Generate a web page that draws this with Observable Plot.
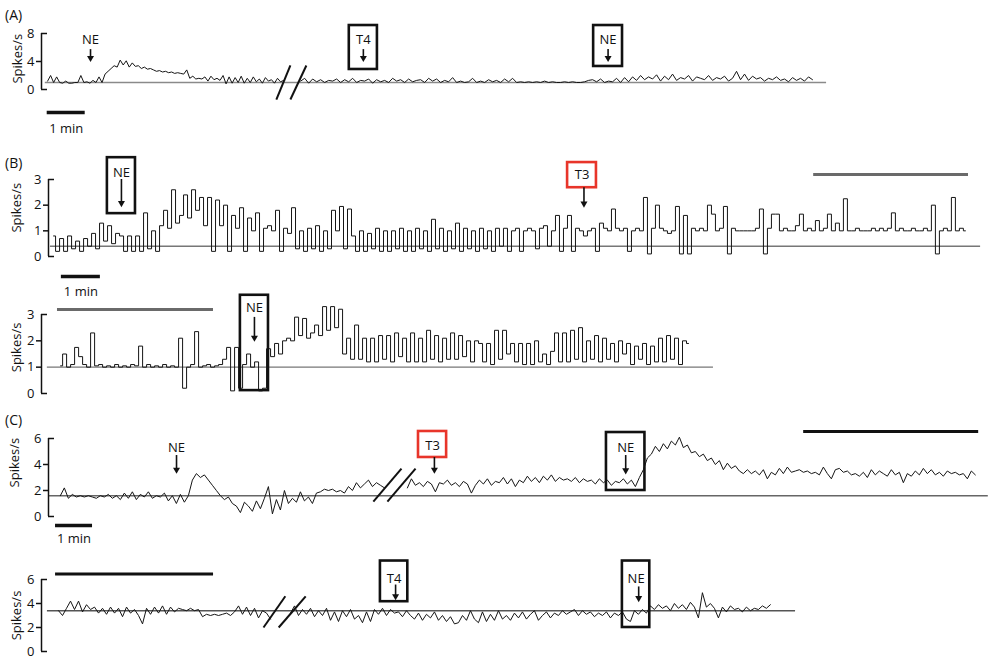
<!DOCTYPE html>
<html>
<head>
<meta charset="utf-8">
<script src="https://cdn.jsdelivr.net/npm/d3@7"></script>
<script src="https://cdn.jsdelivr.net/npm/@observablehq/plot@0.6"></script>
<style>
  body { margin: 0; background: #fff; }
  #fig { position: relative; width: 988px; height: 661px; overflow: hidden; font-family: 'Open Sans', 'Noto Sans', sans-serif; }
  .panel { position: absolute; left: 0; }
  .plab { position: absolute; left: 5px; font-size: 14px; line-height: 18px; color: #111; }
</style>
</head>
<body>
<div id="fig"></div>
<script>
// ---------------- DATA (spikes/s) ----------------
// Panel A
const aSeg1 = [1.2,2.0,1.0,1.8,1.0,0.9,1.2,0.9,0.9,1.0,1.0,2.0,1.0,1.1,0.9,1.3,1.0,1.8,1.0,2.2,2.6,3.0,3.4,3.2,4.2,3.5,4.1,3.2,3.8,3.3,3.4,3.0,3.2,2.9,3.0,2.8,2.6,2.7,2.5,2.6,2.4,2.5,2.3,2.4,2.3,2.2,2.8,1.6,1.9,1.5,1.6,1.5,1.8,1.2,1.9,1.4,1.6,1.3,2.0,0.8,1.8,0.9,1.7,1.0,1.9,0.9,1.6,1.0,1.8,1.1,1.5,0.9,1.7,1.2,1.4,0.9,1.6,1.1,1.3];
const aSeg2 = [1.2,1.6,0.9,1.5,1.1,1.4,1.0,1.3,1.2,1.5,1.0,1.4,1.1,1.6,1.0,1.3,1.2,1.5,0.9,1.4,1.1,1.3,1.0,1.6,1.2,1.4,1.0,1.5,1.1,1.3,
  1.4,1.0,1.6,1.2,1.5,1.0,1.3,1.1,1.7,1.0,1.2,1.0,1.1,1.6,1.0,1.2,1.0,1.4,1.1,1.3,1.0,1.5,1.1,1.6,1.0,1.1,1.0,1.1,
  1.0,1.1,1.0,1.2,1.0,1.1,1.0,1.0,1.1,1.0,1.1,1.0,1.0,1.1,1.3,
  1.4,1.1,1.5,1.0,1.2,1.1,1.6,1.0,1.7,1.1,1.8,
  1.3,2.0,1.4,1.8,1.5,2.1,1.2,1.9,1.4,2.2,1.3,1.7,1.5,2.0,1.2,1.8,1.6,1.4,2.0,1.3,1.7,1.5,1.9,1.2,1.6,2.6,1.4,2.2,1.3,1.9,1.5,1.7,1.2,1.6,1.4,1.8,1.3,1.5,1.1,1.7,1.3,1.6,1.2,1.8,1.4];
// Panel B, upper trace
const bTop = [0.8,0.2,0.7,0.2,0.8,0.3,0.6,0.2,0.7,0.4,0.9,0.3,1.3,0.6,1.2,0.5,0.9,0.8,0.2,0.8,0.2,0.8,0.2,1.7,0.3,
  1.0,0.2,1.2,1.8,1.1,2.6,1.3,1.6,2.4,1.5,2.6,1.8,2.3,1.2,2.3,0.2,2.2,1.2,2.0,0.2,1.6,1.1,1.9,0.2,1.5,
  1.0,1.7,0.2,1.1,1.2,1.0,1.8,0.2,1.1,0.9,1.9,0.3,1.0,0.2,1.1,0.3,1.2,0.2,1.0,0.3,1.8,1.0,1.95,0.3,1.85,
  0.8,0.2,1.0,0.2,0.9,0.3,1.1,0.2,1.0,0.2,1.0,0.3,1.1,0.2,1.0,0.2,1.1,0.3,1.0,0.2,1.45,0.3,1.1,0.2,1.0,
  0.3,1.3,0.2,1.1,0.3,1.0,0.2,1.1,0.3,1.0,0.2,1.1,0.4,1.1,0.2,1.0,1.1,0.2,1.0,1.1,1.0,0.3,1.1,1.2,0.4,
  1.0,1.6,0.2,1.1,1.6,0.2,1.1,1.0,0.8,1.0,1.1,0.2,1.3,1.1,1.0,1.85,1.1,1.0,1.1,0.2,1.0,1.1,
  1.0,2.3,0.1,1.1,2.0,1.1,1.0,0.9,1.0,1.95,0.1,1.6,0.1,1.1,1.0,1.1,1.0,2.0,1.65,1.0,1.1,1.95,0.1,1.1,1.0,1.0,1.0,1.0,1.0,1.1,1.85,0.1,1.1,1.65,1.65,1.0,1.1,1.0,1.0,1.2,1.65,1.0,1.1,1.0,1.4,1.0,1.1,1.65,1.0,1.3,1.0,2.25,1.0,1.0,1.1,1.0,1.0,1.0,1.1,1.0,1.1,1.0,1.1,1.7,1.0,1.1,1.0,1.0,1.1,1.0,1.0,1.1,1.0,2.0,0.1,1.0,1.1,1.0,2.3,1.0,1.1,1.0];
// Panel B, lower trace
const bBottom = [1.05,1.5,1.0,1.1,1.75,1.4,1.1,1.0,2.3,1.05,1.1,1.0,1.05,1.0,1.1,1.0,1.05,1.0,1.1,1.05,1.8,1.0,1.1,1.0,1.05,1.0,1.1,1.0,1.05,1.0,
  2.1,0.2,1.0,1.1,2.35,1.0,1.05,1.1,1.0,1.05,1.1,1.3,1.75,0.1,1.75,0.2,1.1,1.5,1.0,1.2,0.1,0.2,1.7,1.4,1.9,1.5,2.0,2.1,2.0,2.9,
  2.2,2.85,2.1,2.3,2.6,2.2,3.3,2.4,3.3,2.5,3.2,1.5,2.1,1.3,2.6,1.3,2.1,1.2,2.1,1.2,2.2,1.3,2.2,1.2,2.3,1.4,2.1,1.2,2.3,1.2,
  2.1,1.2,2.4,1.3,2.2,1.2,2.1,1.3,2.3,1.3,2.2,1.4,2.0,1.2,2.0,1.9,1.2,1.9,1.1,2.4,1.3,2.4,1.5,1.9,1.2,1.9,1.1,1.9,1.1,2.0,
  1.2,1.5,1.1,1.6,2.3,1.2,2.3,1.2,2.4,1.3,2.5,1.2,2.0,1.3,2.2,1.2,2.1,1.3,1.9,1.2,2.0,1.5,1.9,1.1,1.8,1.3,1.9,1.1,1.8,1.2,
  2.1,1.2,2.2,1.3,2.1,1.1,2.0,1.9];
// Panel C, upper trace (before / after the break)
const cSeg1 = [1.6,2.2,1.4,1.7,1.5,1.6,1.5,1.6,1.5,1.4,1.6,1.5,1.7,1.4,1.6,1.3,1.8,1.4,1.9,1.3,1.7,1.5,1.9,1.4,1.6,1.5,1.8,1.2,1.6,1.0,
  1.7,1.1,1.6,2.8,3.3,3.0,3.2,2.8,2.4,2.0,1.6,1.3,1.5,1.0,0.8,0.3,1.1,0.8,0.4,1.2,0.6,1.4,2.3,0.2,1.3,0.5,2.0,1.0,1.4,1.1,
  1.9,1.2,1.5,1.0,1.8,1.9,2.1,2.0,2.1,1.9,2.0,1.8,2.3,2.0,2.6,2.2,2.5,2.8,2.3,2.6,2.4,2.2];
const cSeg2 = [2.2,2.9,2.4,2.6,2.3,2.7,2.5,1.9,2.6,2.5,2.8,2.4,2.6,2.3,2.7,2.5,1.8,2.4,2.8,2.5,2.9,2.4,2.7,2.6,3.0,2.5,2.9,2.3,2.8,2.6,
  3.1,2.7,3.0,2.6,3.1,2.8,3.2,2.7,3.0,2.8,2.9,2.7,3.0,2.6,2.9,2.7,2.8,2.5,2.9,2.6,2.8,2.4,2.7,2.6,2.9,2.5,2.8,2.3,3.0,3.6,
  4.5,4.8,5.4,5.0,5.6,5.2,5.8,5.5,6.1,5.3,5.5,4.9,5.0,4.6,4.8,4.3,4.5,4.0,4.3,3.6,4.1,3.7,3.9,3.5,3.3,3.6,3.3,3.5,3.2,3.6,
  2.9,3.4,3.2,3.7,3.3,3.8,3.4,3.5,3.6,3.4,3.5,3.3,3.4,3.2,3.8,3.3,2.9,3.6,3.7,3.4,3.5,3.2,3.3,3.1,3.4,3.0,3.6,3.2,3.5,3.3,
  3.1,3.6,3.2,3.4,2.6,3.3,3.1,3.5,3.2,3.7,3.3,3.6,3.2,3.4,3.1,3.5,3.3,3.4,3.2,3.3,2.9,3.5,3.2];
// Panel C, lower trace (before / after the break)
const dSeg1 = [3.4,3.0,3.6,4.2,3.5,4.2,3.3,3.9,3.5,3.7,3.2,3.6,3.1,3.7,3.2,3.6,2.9,3.7,3.2,3.5,3.0,2.3,3.6,3.1,3.7,3.2,3.8,3.1,3.7,3.3,
  3.6,3.5,3.4,3.6,3.4,3.5,2.9,3.1,3.0,3.1,3.0,3.1,3.2,3.0,3.3,3.8,3.1,3.7,3.0,3.6,2.8,3.4,3.2,2.7];
const dSeg2 = [3.2,3.8,3.0,3.5,3.1,3.6,2.9,3.4,3.0,3.6,2.6,3.3,2.5,3.4,2.9,3.5,2.7,3.0,2.4,3.3,2.5,3.5,3.1,3.6,3.0,3.5,3.2,3.3,2.9,3.4,
  3.0,2.7,3.2,2.6,3.1,2.8,3.3,2.6,3.0,2.5,2.9,2.3,2.4,3.0,2.6,3.4,2.7,2.4,3.3,2.5,3.1,2.6,3.4,2.7,3.0,2.6,3.2,2.8,3.3,2.7,
  3.1,3.4,2.6,3.0,3.3,2.8,3.2,3.0,3.4,3.1,3.3,3.5,3.0,3.4,3.1,3.3,2.9,3.2,3.0,3.3,2.8,3.2,3.0,3.3,2.7,2.5,3.4,3.1,3.5,3.2,
  3.8,3.5,3.9,3.6,3.8,3.4,4.0,3.6,3.9,3.5,4.1,3.7,2.8,4.9,3.7,4.0,3.6,2.8,3.7,3.3,3.8,3.5,3.6,3.3,3.7,3.4,3.6,3.5,3.8,3.6,3.9];

const ticksA = [0, 4, 8];
const ticksB = [0, 1, 2, 3];
const ticksC = [0, 2, 4, 6];
const yTitle = "Spikes/s";
const scaleText = "1 min";

// drug applications (time in min, label)
const eventsA = [{label: "NE", t: 1.29, boxed: false}, {label: "T4", t: 8.47, boxed: true}, {label: "NE", t: 14.91, boxed: true}];
const eventsB1 = [{label: "NE", t: 1.87, boxed: true}, {label: "T3", t: 13.68, boxed: true, red: true}];
const eventsB2 = [{label: "NE", t: 5.46, boxed: true}];
const eventsC1 = [{label: "NE", t: 3.46, boxed: false}, {label: "T3", t: 10.38, boxed: true, red: true}, {label: "NE", t: 15.6, boxed: true}];
const eventsC2 = [{label: "T4", t: 9.53, boxed: true}, {label: "NE", t: 16.07, boxed: true}];

// ---------------- LAYOUT ----------------
const W = 988;
const FONT = "'Open Sans', 'Noto Sans', sans-serif";
const RED = "#e8352a";

const panels = [
  {name: "(A)", labelTop: 6, top: 0, height: 140, ml: 41, ppm: 38, xMax: 24, mt: 33, mb: 51, ticks: ticksA, curve: "linear",
   segs: [[0.16, 6.37, aSeg1], [6.82, 20.29, aSeg2]],
   base: {v: 1.0, t1: 0.1, t2: 20.66, stroke: "#8a8a8a"},
   ylab: {v: 4.4, dx: -24},
   slashes: [{t1: 6.18, v1: -1.43, t2: 6.55, v2: 3.43}, {t1: 6.55, v1: -1.43, t2: 6.97, v2: 3.43}],
   events: eventsA,
   ann: [{ty: 7.14, a1: 5.7, a2: 4.5, bt: 9.14, bb: 2.86, hw: 0.37}, {ty: 7.14, a1: 5.7, a2: 4.5, bt: 9.14, bb: 2.86, hw: 0.37}, {ty: 7.14, a1: 5.7, a2: 4.5, bt: 9.14, bb: 3.29, hw: 0.38}],
   bars: [],
   scale: {t1: 0.15, t2: 1.15, v: -3.29, tv: -5.55}},
  {name: "(B)", labelTop: 154, top: 145, height: 150, ml: 48, ppm: 39, xMax: 24, mt: 34, mb: 39, ticks: ticksB, curve: "step",
   segs: [[0.13, 23.51, bTop]],
   base: {v: 0.4, t1: 0.05, t2: 23.9, stroke: "#777"},
   ylab: {v: 1.9, dx: -32},
   slashes: [],
   events: eventsB1,
   ann: [{ty: 3.27, a1: 3.0, a2: 2.08, bt: 3.85, bb: 1.67, hw: 0.36}, {ty: 3.17, a1: 2.68, a2: 2.06, bt: 3.66, bb: 2.68, hw: 0.37, ax: 13.73}],
   bars: [{t1: 19.62, t2: 23.59, v: 3.19, stroke: "#6a6a6a"}],
   scale: {t1: 0.33, t2: 1.33, v: -0.78, tv: -1.36}},
  {name: "", labelTop: 0, top: 290, height: 120, ml: 41, ppm: 39, xMax: 24, mt: 24, mb: 17, ticks: ticksB, curve: "step",
   segs: [[0.49, 16.59, bBottom]],
   base: {v: 1.0, t1: 0.15, t2: 17.23, stroke: "#777"},
   ylab: {v: 1.75, dx: -25},
   slashes: [],
   events: eventsB2,
   ann: [{ty: 3.27, a1: 2.89, a2: 2.12, bt: 3.73, bb: 0.11, hw: 0.36}],
   bars: [{t1: 0.41, t2: 4.41, v: 3.19, stroke: "#6a6a6a"}],
   scale: null},
  {name: "(C)", labelTop: 411, top: 420, height: 130, ml: 48, ppm: 37, xMax: 25.4, mt: 18, mb: 34, ticks: ticksC, curve: "linear",
   segs: [[0.32, 9.08, cSeg1], [9.70, 25.05, cSeg2]],
   base: {v: 1.6, t1: 0, t2: 25.4, stroke: "#666"},
   ylab: {v: 4.15, dx: -34},
   slashes: [{t1: 8.78, v1: 1.15, t2: 9.54, v2: 3.69}, {t1: 9.16, v1: 1.15, t2: 9.92, v2: 3.69}],
   events: eventsC1,
   ann: [{ty: 5.31, a1: 4.69, a2: 3.6}, {ty: 5.4, a1: 4.54, a2: 3.6, bt: 6.54, bb: 4.54, hw: 0.38, ax: 10.43}, {ty: 5.31, a1: 4.69, a2: 3.55, bt: 6.46, bb: 2.0, hw: 0.52}],
   bars: [{t1: 20.41, t2: 25.14, v: 6.54, stroke: "#111"}],
   scale: {t1: 0.19, t2: 1.19, v: -0.69, tv: -1.69}},
  {name: "", labelTop: 0, top: 550, height: 111, ml: 41, ppm: 37, xMax: 25.5, mt: 29, mb: 10, ticks: ticksC, curve: "linear",
   segs: [[0.46, 6.19, dSeg1], [6.73, 19.70, dSeg2]],
   base: {v: 3.4, t1: 0.16, t2: 20.38, stroke: "#555"},
   ylab: {v: 3.0, dx: -25},
   slashes: [{t1: 6.0, v1: 2.0, t2: 6.59, v2: 4.6}, {t1: 6.41, v1: 2.0, t2: 7.14, v2: 4.6}],
   events: eventsC2,
   ann: [{ty: 6.08, a1: 5.54, a2: 4.6, bt: 7.54, bb: 4.15, hw: 0.37, ax: 9.57}, {ty: 6.08, a1: 5.38, a2: 4.45, bt: 7.54, bb: 2.0, hw: 0.37, ax: 16.14}],
   bars: [{t1: 0.38, t2: 4.65, v: 6.46, stroke: "#111"}],
   scale: null}
];

const fig = document.getElementById("fig");

for (const p of panels) {
  const innerW = p.xMax * p.ppm;
  const mr = W - p.ml - innerW;
  const yMax = p.ticks[p.ticks.length - 1];
  const trace = p.segs.flatMap(([t0, t1, vals], si) =>
    vals.map((v, i) => ({seg: si, t: t0 + i * (t1 - t0) / (vals.length - 1), v})));
  const ev = p.events.map((e, i) => ({...e, ...p.ann[i], ax: p.ann[i].ax ?? e.t}));
  const boxes = ev.filter(e => e.boxed);

  const marks = [
    Plot.ruleY([p.base], {y: "v", x1: "t1", x2: "t2", stroke: p.base.stroke, strokeWidth: 1.4}),
    Plot.line(trace, {x: "t", y: "v", z: "seg", curve: p.curve, stroke: "#151515", strokeWidth: 1}),
    // y axis (bracket style)
    Plot.ruleX([0], {y1: 0, y2: yMax, stroke: "#111", strokeWidth: 1.5}),
    Plot.ruleY([0, yMax], {insetRight: innerW - 6, stroke: "#111", strokeWidth: 1.5}),
    Plot.axisY(p.ticks.slice(1, -1), {tickSize: 5, tickFormat: () => "", label: null, strokeWidth: 1.5}),
    Plot.axisY(p.ticks, {tickSize: 0, tickPadding: 7, label: null, fill: "#111"}),
    Plot.text([p.ylab], {y: "v", frameAnchor: "left", textAnchor: "middle", rotate: -90, dx: p.ylab.dx, text: () => yTitle, fill: "#111"}),
    // break marks
    Plot.link(p.slashes, {x1: "t1", y1: "v1", x2: "t2", y2: "v2", stroke: "#111", strokeWidth: 2}),
    // treatment bars
    Plot.ruleY(p.bars, {y: "v", x1: "t1", x2: "t2", stroke: "stroke", strokeWidth: 3}),
    // event annotations
    Plot.rect(boxes, {x1: d => d.t - d.hw, x2: d => d.t + d.hw, y1: "bb", y2: "bt", fill: "none",
      stroke: d => d.red ? RED : "#111", strokeWidth: 2.6}),
    Plot.text(ev, {x: "t", y: "ty", text: "label", fill: "#111"}),
    Plot.ruleX(ev, {x: "ax", y1: "a1", y2: "a2", stroke: "#111", strokeWidth: 1.6}),
    Plot.dot(ev, {x: "ax", y: "a2", symbol: "triangle", rotate: 180, r: 2.6, fill: "#111", stroke: null})
  ];
  if (p.scale) {
    marks.push(Plot.ruleY([p.scale], {y: "v", x1: "t1", x2: "t2", stroke: "#111", strokeWidth: 3.5}));
    marks.push(Plot.text([p.scale], {x: d => (d.t1 + d.t2) / 2, y: "tv", text: () => scaleText, fill: "#111"}));
  }

  const svg = Plot.plot({
    width: W, height: p.height,
    marginLeft: p.ml, marginRight: mr, marginTop: p.mt, marginBottom: p.mb,
    x: {domain: [0, p.xMax], axis: null},
    y: {domain: [0, yMax]},
    style: {background: "transparent", overflow: "visible", fontFamily: FONT, fontSize: "13px", color: "#111"},
    marks
  });
  svg.classList.add("panel");
  svg.style.position = "absolute";
  svg.style.top = p.top + "px";
  svg.style.left = "0px";
  fig.appendChild(svg);

  if (p.name) {
    const lab = document.createElement("div");
    lab.className = "plab";
    lab.style.top = p.labelTop + "px";
    lab.textContent = p.name;
    fig.appendChild(lab);
  }
}
</script>
</body>
</html>
